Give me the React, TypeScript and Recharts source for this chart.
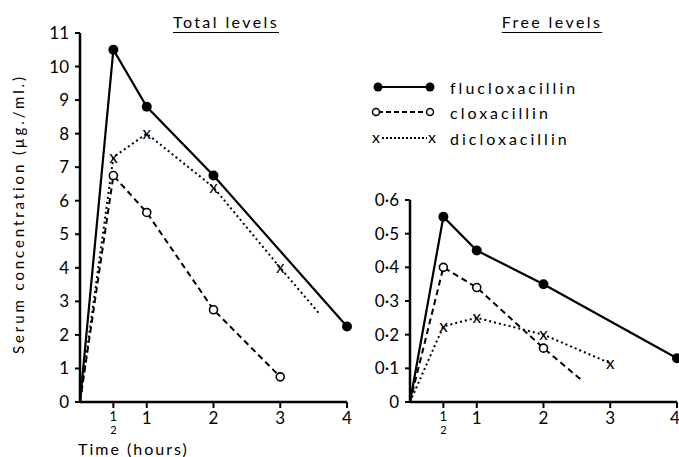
import { Line, LineChart, XAxis, YAxis } from "recharts"

// sampling times (hours) and axis ticks
const hourTicks = [0.5, 1, 2, 3, 4]
const totalTicks = [0, 1, 2, 3, 4, 5, 6, 7, 8, 9, 10, 11]
const freeTicks = [0, 0.1, 0.2, 0.3, 0.4, 0.5, 0.6]

// total serum levels (µg./ml.)
const flucloxTotalT = [0.5, 1, 2, 4]
const flucloxTotal = [10.5, 8.8, 6.75, 2.25]
const cloxTotalT = [0.5, 1, 2, 3]
const cloxTotal = [6.75, 5.65, 2.75, 0.75]
const dicloxTotalT = [0.5, 1, 2, 3]
const dicloxTotal = [7.3, 8.0, 6.4, 4.0]
const dicloxTotalTail = [3.6, 2.6]

// free serum levels (µg./ml.)
const flucloxFreeT = [0.5, 1, 2, 4]
const flucloxFree = [0.55, 0.45, 0.35, 0.13]
const cloxFreeT = [0.5, 1, 2]
const cloxFree = [0.4, 0.34, 0.16]
const cloxFreeTail = [2.6, 0.06]
const dicloxFreeT = [0.5, 1, 2, 3]
const dicloxFree = [0.225, 0.25, 0.2, 0.115]

const FONT = "Lato, 'DejaVu Sans', sans-serif"

type Pt = { t: number; c: number; measured: boolean }

function series(times: number[], vals: number[], tail?: number[]): Pt[] {
  const pts: Pt[] = [{ t: 0, c: 0, measured: false }]
  times.forEach((t, i) => pts.push({ t, c: vals[i], measured: true }))
  if (tail) pts.push({ t: tail[0], c: tail[1], measured: false })
  return pts
}

function marker(kind: string) {
  return (p: any) => {
    const { cx, cy, index, payload } = p
    if (!payload || !payload.measured || cx == null) return <g key={index} />
    if (kind === "filled") return <circle key={index} cx={cx} cy={cy} r={5} fill="#000" />
    if (kind === "open")
      return <circle key={index} cx={cx} cy={cy} r={4} fill="#fff" stroke="#000" strokeWidth={1.6} />
    return (
      <text key={index} x={cx} y={cy} dy="0.32em" textAnchor="middle" fontSize={17} fontFamily={FONT} fill="#000">
        x
      </text>
    )
  }
}

function HourTick(p: any) {
  const { x, y, payload } = p
  if (payload.value === 0.5) {
    return (
      <g fontFamily={FONT} fill="#000">
        <text x={x} y={y + 9} textAnchor="middle" fontSize={13}>1</text>
        <text x={x} y={y + 22} textAnchor="middle" fontSize={11}>2</text>
      </g>
    )
  }
  return (
    <text x={x} y={y + 12} textAnchor="middle" fontSize={17} fontFamily={FONT} fill="#000">
      {payload.value}
    </text>
  )
}

const axisStyle = { stroke: "#000", strokeWidth: 2.5 }
const tickStyle = { fill: "#000", fontSize: 17, fontFamily: FONT }

function Panel({ lines, ticks, domain, fmt }: any) {
  return (
    <>
      <XAxis
        type="number"
        dataKey="t"
        domain={[0, 4]}
        ticks={hourTicks}
        height={30}
        tickSize={6}
        tickMargin={4}
        axisLine={axisStyle}
        tickLine={{ stroke: "#000", strokeWidth: 2 }}
        tick={<HourTick />}
      />
      <YAxis
        type="number"
        domain={domain}
        ticks={ticks}
        width={80}
        tickSize={5}
        tickMargin={6}
        axisLine={axisStyle}
        tickLine={{ stroke: "#000", strokeWidth: 2 }}
        tick={tickStyle}
        tickFormatter={fmt}
      />
      {lines}
    </>
  )
}

function seriesLines(fluclox: Pt[], clox: Pt[], diclox: Pt[]) {
  return [
    <Line key="f" data={fluclox} dataKey="c" type="linear" stroke="#000" strokeWidth={2.2} dot={marker("filled")} isAnimationActive={false} />,
    <Line key="c" data={clox} dataKey="c" type="linear" stroke="#000" strokeWidth={2} strokeDasharray="6 4" dot={marker("open")} isAnimationActive={false} />,
    <Line key="d" data={diclox} dataKey="c" type="linear" stroke="#000" strokeWidth={2} strokeDasharray="2 3" dot={marker("cross")} isAnimationActive={false} />,
  ]
}

function LegendRow({ y, kind, label }: { y: number; kind: string; label: string }) {
  const dash = kind === "filled" ? undefined : kind === "open" ? "5 3" : "2 2"
  return (
    <div style={{ position: "absolute", left: 368, top: y - 12, height: 24, display: "flex", alignItems: "center" }}>
      <svg width={72} height={24}>
        <line x1={10} y1={12} x2={62} y2={12} stroke="#000" strokeWidth={2} strokeDasharray={dash} />
        {kind === "filled" && (
          <>
            <circle cx={10} cy={12} r={4.5} fill="#000" />
            <circle cx={62} cy={12} r={4.5} fill="#000" />
          </>
        )}
        {kind === "open" && (
          <>
            <circle cx={8} cy={12} r={3.5} fill="#fff" stroke="#000" strokeWidth={1.5} />
            <circle cx={62} cy={12} r={3.5} fill="#fff" stroke="#000" strokeWidth={1.5} />
          </>
        )}
        {kind === "cross" && (
          <>
            <rect x={2} y={4} width={10} height={16} fill="#fff" />
            <rect x={59} y={4} width={10} height={16} fill="#fff" />
            <text x={8} y={17} textAnchor="middle" fontSize={16} fontFamily={FONT}>x</text>
            <text x={64} y={17} textAnchor="middle" fontSize={16} fontFamily={FONT}>x</text>
          </>
        )}
      </svg>
      <span style={{ marginLeft: 10, fontFamily: FONT, fontSize: 16, letterSpacing: 3 }}>{label}</span>
    </div>
  )
}

const titleStyle: any = {
  position: "absolute",
  top: 12,
  fontFamily: FONT,
  fontSize: 16,
  letterSpacing: 2.4,
  textDecoration: "underline",
  textUnderlineOffset: 4,
  transform: "translateX(-50%)",
  whiteSpace: "nowrap",
}

export default function App() {
  const fmtTotal = (v: number) => String(v)
  const fmtFree = (v: number) => (v === 0 ? "0" : "0·" + Math.round(v * 10))
  return (
    <div style={{ position: "absolute", left: 0, top: 0, width: 679, height: 457, background: "#fff", overflow: "hidden" }}>
      <div style={{ position: "absolute", left: 0, top: 0 }}>
        <LineChart width={360} height={457} margin={{ top: 33, right: 13, bottom: 25, left: 0 }}>
          {Panel({
            lines: seriesLines(
              series(flucloxTotalT, flucloxTotal),
              series(cloxTotalT, cloxTotal),
              series(dicloxTotalT, dicloxTotal, dicloxTotalTail)
            ),
            ticks: totalTicks,
            domain: [0, 11],
            fmt: fmtTotal,
          })}
        </LineChart>
      </div>
      <div style={{ position: "absolute", left: 330, top: 0 }}>
        <LineChart width={349} height={457} margin={{ top: 200, right: 2, bottom: 25, left: 0 }}>
          {Panel({
            lines: seriesLines(
              series(flucloxFreeT, flucloxFree),
              series(cloxFreeT, cloxFree, cloxFreeTail),
              series(dicloxFreeT, dicloxFree)
            ),
            ticks: freeTicks,
            domain: [0, 0.6],
            fmt: fmtFree,
          })}
        </LineChart>
      </div>
      <div
        style={{
          position: "absolute",
          left: 18,
          top: 214,
          transform: "translate(-50%, -50%) rotate(-90deg)",
          fontFamily: FONT,
          fontSize: 15,
          letterSpacing: 2.9,
          whiteSpace: "nowrap",
        }}
      >
        Serum concentration (µg./ml.)
      </div>
      <div style={{ position: "absolute", left: 78, top: 439, fontFamily: FONT, fontSize: 16, letterSpacing: 2 }}>
        Time (hours)
      </div>
      <div style={{ ...titleStyle, left: 226 }}>Total levels</div>
      <div style={{ ...titleStyle, left: 552 }}>Free levels</div>
      <LegendRow y={87} kind="filled" label="flucloxacillin" />
      <LegendRow y={112} kind="open" label="cloxacillin" />
      <LegendRow y={138} kind="cross" label="dicloxacillin" />
    </div>
  )
}
